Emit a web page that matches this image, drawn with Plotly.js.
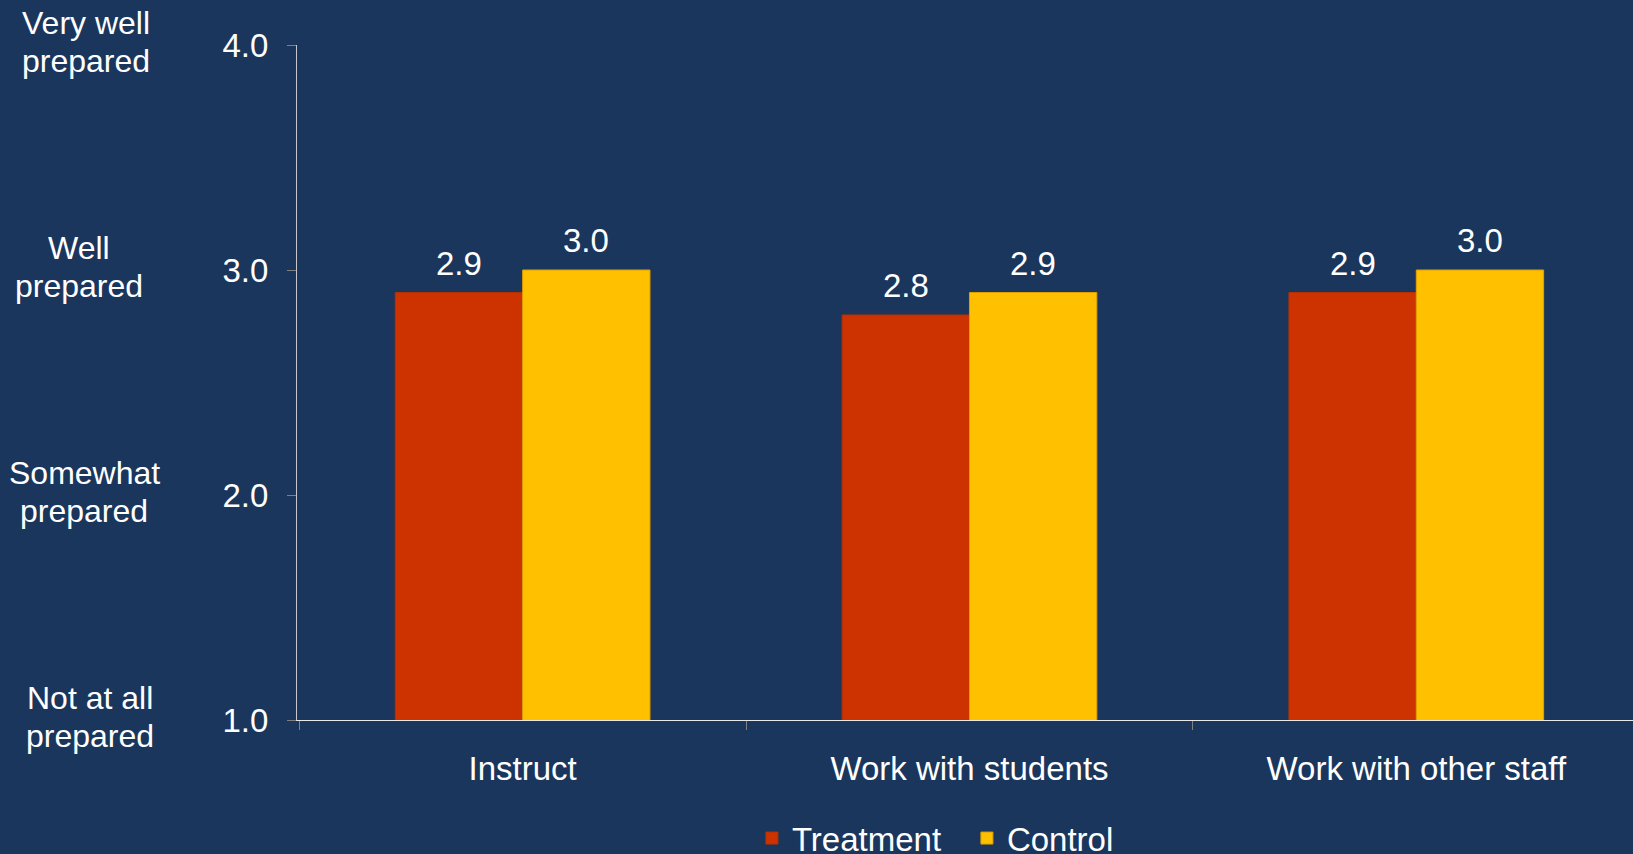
<!DOCTYPE html>
<html>
<head>
<meta charset="utf-8">
<script src="https://cdn.plot.ly/plotly-3.0.1.min.js"></script>
<style>html,body{margin:0;padding:0;background:#1a365d;}#chart{width:1633px;height:854px;}</style>
</head>
<body>
<div id="chart"></div>
<script>
const categories = ["Instruct", "Work with students", "Work with other staff"];
const treatment = [2.9, 2.8, 2.9];
const control = [3.0, 2.9, 3.0];
const seriesNames = ["Treatment", "Control"];
const yTickVals = [1, 2, 3, 4];
const yTickText = ["1.0", "2.0", "3.0", "4.0"];
const scaleLabels = [["Not at all", "prepared"], ["Somewhat", "prepared"], ["Well", "prepared"], ["Very well", "prepared"]];

const FONT = "Liberation Sans, Arial, sans-serif";
const BG = "#1a365d";
const colors = ["#cc3300", "#ffc000"];
const lineColors = ["#b83000", "#e0a000"];

const W = 1633, H = 854, ML = 297, MR = 0, MT = 45, MB = 134;
const bargap = 0.43;
const xMin = -0.505, xMax = 2.485;
const plotW = W - ML - MR;
const catW = plotW / (xMax - xMin);
const barW = catW * (1 - bargap) / 2;

const traces = [treatment, control].map((vals, i) => ({
  type: "bar",
  name: seriesNames[i],
  x: categories,
  y: vals,
  marker: {color: colors[i], line: {color: lineColors[i], width: 1}},
  hoverinfo: "x+y+name"
}));

const annotations = [];
[treatment, control].forEach((vals, s) => {
  vals.forEach((v, i) => {
    annotations.push({
      x: categories[i], y: v, xref: "x", yref: "y",
      text: v.toFixed(1), showarrow: false,
      xanchor: "center", yanchor: "bottom",
      xshift: (s === 0 ? -1 : 1) * barW / 2, yshift: 9,
      font: {family: FONT, size: 33, color: "#ffffff"}
    });
  });
});
const labelX = [-207, -213, -218, -211];
const lineShift = [22, -16];
yTickVals.forEach((v, i) => {
  scaleLabels[i].forEach((line, j) => {
    annotations.push({
      x: 0, y: v, xref: "paper", yref: "y",
      text: line, showarrow: false,
      xanchor: "center", yanchor: "middle", align: "center",
      xshift: labelX[i], yshift: lineShift[j],
      font: {family: FONT, size: 32, color: "#ffffff"}
    });
  });
});

const layout = {
  width: W, height: H,
  paper_bgcolor: BG, plot_bgcolor: BG,
  margin: {l: ML, r: MR, t: MT, b: MB, pad: 0, autoexpand: false},
  barmode: "group", bargap: bargap, bargroupgap: 0,
  font: {family: FONT, color: "#ffffff", size: 30},
  showlegend: true,
  legend: {
    orientation: "h", x: 0.3405, xanchor: "left", y: -0.175, yanchor: "middle",
    font: {family: FONT, size: 33, color: "#ffffff"},
    bgcolor: "rgba(0,0,0,0)", itemwidth: 30, traceorder: "normal",
    entrywidth: 170, entrywidthmode: "pixels"
  },
  xaxis: {
    type: "category", range: [xMin, xMax],
    showline: true, linecolor: "#e8e8e8", linewidth: 1,
    ticks: "outside", tickson: "boundaries", ticklen: 9, tickcolor: "#808080", tickwidth: 1,
    showgrid: false, zeroline: false,
    tickfont: {family: FONT, size: 33, color: "#ffffff"},
    ticklabelstandoff: 19
  },
  yaxis: {
    range: [1, 4], tickvals: yTickVals, ticktext: yTickText,
    showline: true, linecolor: "#c8c8c8", linewidth: 1,
    ticks: "outside", ticklen: 9, tickcolor: "#808080", tickwidth: 1,
    showgrid: false, zeroline: false,
    tickfont: {family: FONT, size: 33, color: "#ffffff"},
    ticklabelstandoff: 12
  },
  annotations: annotations
};

Plotly.newPlot("chart", traces, layout, {displayModeBar: false, staticPlot: true});
</script>
</body>
</html>
